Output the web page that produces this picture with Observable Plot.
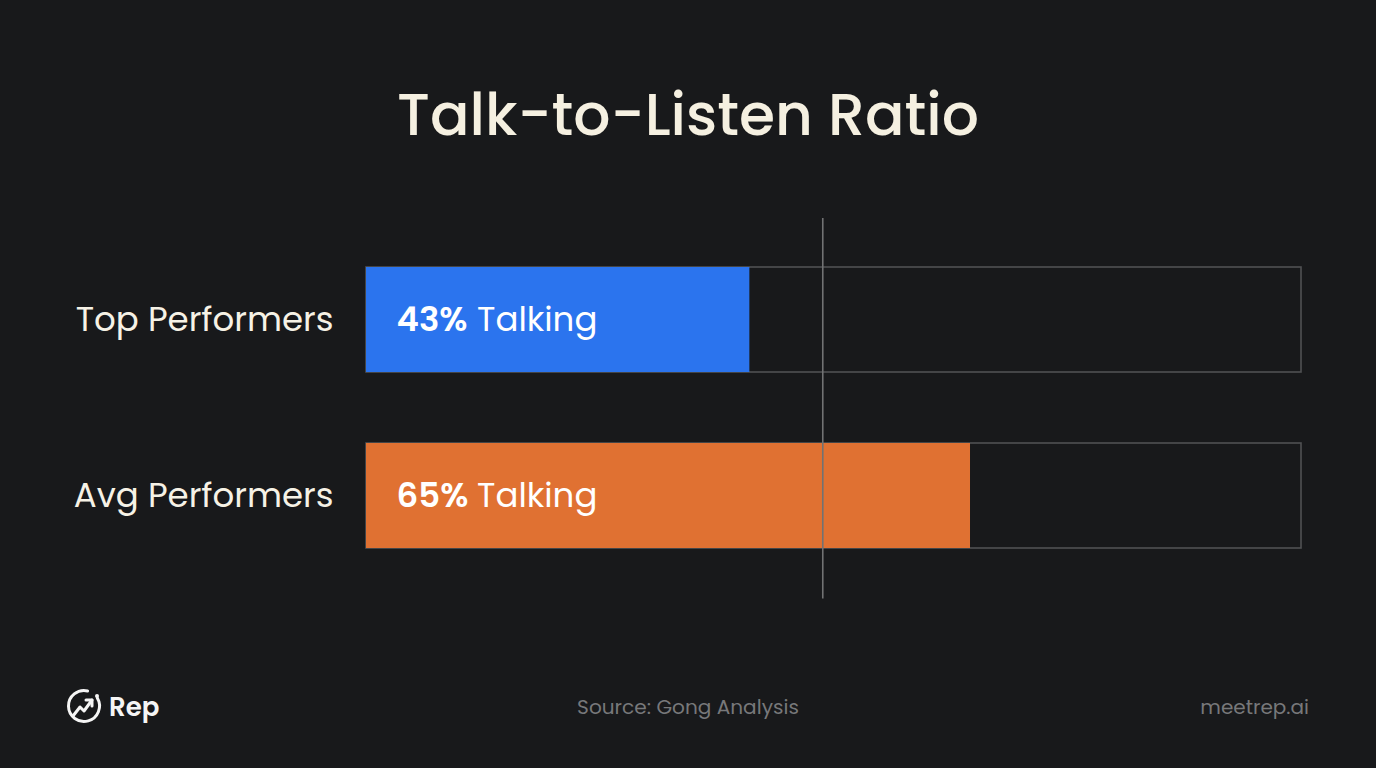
<!DOCTYPE html>
<html><head><meta charset="utf-8">
<script src="https://cdn.jsdelivr.net/npm/d3@7"></script>
<script src="https://cdn.jsdelivr.net/npm/@observablehq/plot@0.6"></script>
<style>
html,body{margin:0;padding:0;background:#18191b;width:1376px;height:768px;overflow:hidden}
#c{position:absolute;left:0;top:0}
svg{display:block}
</style></head><body><div id="c"></div>
<script>
const categories=["Top Performers","Avg Performers"];
const talking=[41,64.6];
const labels=["43%","65%"];
const colors=["#2b74ee","#e07132"];
const full=[100,100];
const marker=[48.8];
const rows=categories.map((c,i)=>({c,v:talking[i],full:full[i],label:labels[i]}));
const font="Poppins, Inter, 'Noto Sans', sans-serif";
const cream="#f5f0e1";
const chart=Plot.plot({
 width:1376,height:768,
 marginLeft:366,marginRight:75,marginTop:267,marginBottom:219.5,
 style:{background:"#18191b",fontFamily:font},
 x:{domain:[0,100],axis:null},
 y:{domain:categories,axis:null,paddingInner:0.403,paddingOuter:0},
 color:{domain:categories,range:colors},
 marks:[
  Plot.barX(rows,{y:"c",x:"full",fill:"none",stroke:"#505153",strokeWidth:1.6}),
  Plot.barX(rows,{y:"c",x:"v",fill:"c"}),
  Plot.ruleX(marker,{stroke:"#717273",strokeWidth:1.6,insetTop:-49,insetBottom:-50}),
  Plot.text(rows,{y:"c",x:0,text:"c",dx:-33,dy:0.5,textAnchor:"end",fill:"#f6f2e6",fontSize:34,fontWeight:400}),
  Plot.text(rows,{y:"c",x:0,text:d=>d.label,dx:30,dy:0.5,textAnchor:"start",fill:"#fff",fontSize:34,fontWeight:600}),
  Plot.text(rows,{y:"c",x:0,text:()=>"Talking",dx:110.5,dy:0.5,textAnchor:"start",fill:"#fff",fontSize:34,fontWeight:400})
 ]
});
const svg=d3.select(chart);
const add=(x,y,t,size,fill,anchor,weight)=>svg.append("text").attr("x",x).attr("y",y).attr("text-anchor",anchor).attr("font-size",size).attr("font-weight",weight).attr("fill",fill).attr("font-family",font).text(t);
add(688,135,"Talk-to-Listen Ratio",58.4,cream,"middle",500);
add(688,714,"Source: Gong Analysis",20.1,"#77787a","middle",400);
add(1309,714,"meetrep.ai",20,"#77787a","end",400);
add(109,716,"Rep",26,"#f5f5f5","start",600);
// logo
const logo=svg.append("g").attr("transform","translate(84,706)").attr("fill","none").attr("stroke","#f5f5f5").attr("stroke-width",3).attr("stroke-linecap","round").attr("stroke-linejoin","round");
logo.append("path").attr("d",d3.arc()({innerRadius:15.5,outerRadius:15.5,startAngle:0.25*Math.PI+0.25,endAngle:2.25*Math.PI-0.55}));
logo.append("path").attr("d","M-11,10 L-4,1 L0,5 L8,-6");
logo.append("path").attr("d","M2,-6 L8,-6 L8,0");
logo.append("circle").attr("cx",13).attr("cy",-10).attr("r",2).attr("fill","#f5f5f5").attr("stroke","none");
document.getElementById("c").append(chart);
</script></body></html>
